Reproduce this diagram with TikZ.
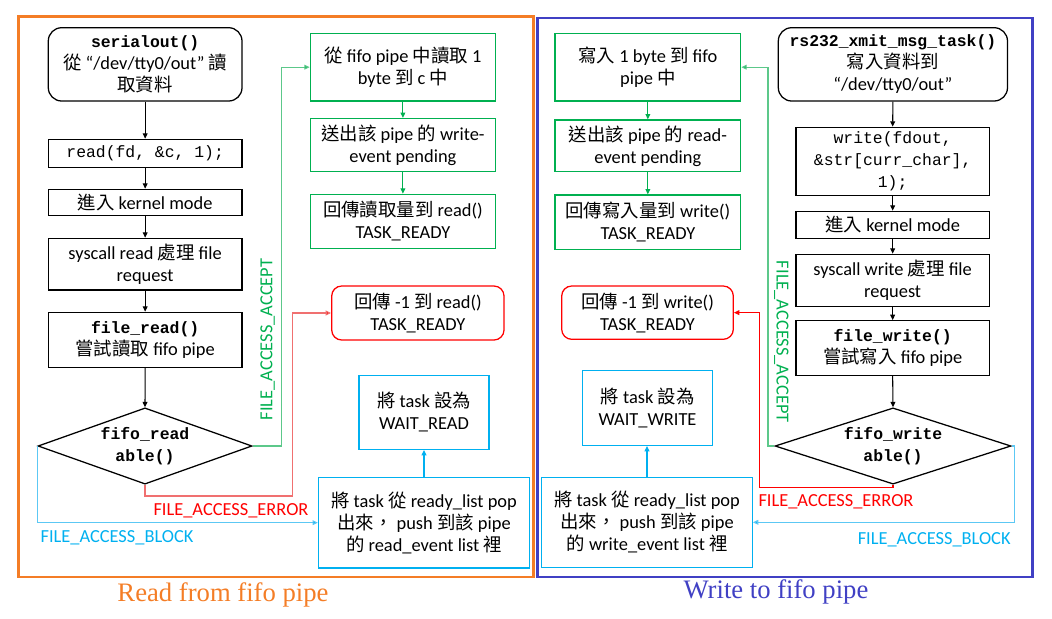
\documentclass[tikz,border=0pt]{standalone}
\usepackage{fontspec}
\setmainfont{Carlito}
\setmonofont{Liberation Mono}
\newfontfamily\zhfont{Noto Sans CJK TC}
\newfontfamily\titlefont{Liberation Serif}
\newcommand\Z[1]{{\zhfont #1}}
\newcommand\cod{\fontsize{12.3}{16.5}\selectfont\ttfamily}
\newcommand\codb{\fontsize{12.3}{16.5}\selectfont\ttfamily\bfseries}
\usetikzlibrary{arrows.meta,shapes.geometric}
\definecolor{forange}{HTML}{F47D26}
\definecolor{fblue}{HTML}{4040C4}
\definecolor{ggreen}{HTML}{00B050}
\definecolor{glight}{HTML}{5CC88A}
\definecolor{cblue}{HTML}{00B0F0}
\definecolor{clight}{HTML}{5CC8F4}
\definecolor{rred}{HTML}{FF0000}
\definecolor{rlight}{HTML}{F07070}
\begin{document}
\begin{tikzpicture}[x=0.75pt,y=-0.75pt,
  txt/.style={font=\fontsize{13.8}{16.5}\selectfont},
  box/.style={draw, line width=0.95pt, inner sep=0pt, align=center, txt},
  sz/.style 2 args={minimum width=#1*0.75pt, minimum height=#2*0.75pt},
  rbox/.style={box, rounded corners=10pt},
  gbox/.style={box, draw=ggreen},
  redbox/.style={box, draw=rred, rounded corners=7.5pt},
  cbox/.style={box, draw=cblue},
  dia/.style={diamond, draw, line width=0.95pt, inner sep=0pt, aspect=2.8, align=center, font=\codb},
  arr/.style={-{Triangle[length=4pt,width=3.6pt]}, line width=0.8pt},
  frame/.style={line width=2pt},
  lbl/.style={txt, inner sep=0pt, anchor=base},
  ttl/.style={font=\titlefont\fontsize{20}{24}\selectfont, inner sep=0pt, anchor=base}
]
\useasboundingbox (0,0) rectangle (1052,618);

% frames
\draw[frame, forange] (18.3,16.3) rectangle (533.3,577);
\draw[frame, fblue] (537.3,18) rectangle (1032.3,577);
\node[ttl, text=forange] (t1) at (223,601.7) {Read from fifo pipe};
\node[ttl, text=fblue] (t2) at (776,598.3) {Write to fifo pipe};

% ---------- left panel ----------
\node[rbox, sz={193.7}{73.3}] (n1) at (145.15,64.35) {{\codb serialout()}\\\Z{從} “/dev/tty0/out” \Z{讀}\\\Z{取資料}};
\node[box, sz={193.7}{28}] (n2) at (145.15,153.3) {\cod read(fd, \&c, 1);};
\node[box, sz={193.7}{26}] (n3) at (145.15,202.3) {\Z{進入} kernel mode};
\node[box, sz={193.7}{51.7}] (n4) at (145.15,264.15) {syscall read \Z{處理} file\\request};
\node[box, sz={193.7}{55}] (n5) at (145.15,339.8) {{\codb file\_read()}\\\Z{嘗試讀取} fifo pipe};
\node[dia, minimum width=160.5pt, minimum height=57.2pt] (d1) at (145,446) {fifo\_read\\able()};

\node[gbox, sz={185.2}{67.7}] (g1) at (402.9,67.15) {\Z{從} fifo pipe \Z{中讀取} 1\\byte \Z{到} c \Z{中}};
\node[gbox, sz={185.2}{53.2}] (g2) at (402.9,145.1) {\Z{送出該} pipe \Z{的} write-\\event pending};
\node[gbox, sz={185.2}{54}] (g3) at (402.9,221.3) {\Z{回傳讀取量到} read()\\TASK\_READY};
\node[redbox, sz={172.3}{54}] (r1) at (417.85,313) {\Z{回傳} -1 \Z{到} read()\\TASK\_READY};
\node[cbox, sz={130}{74}] (c1) at (424,412.3) {\Z{將} task \Z{設為}\\WAIT\_READ};
\node[cbox, sz={211}{90.7}] (c2) at (424,522.65) {\Z{將} task \Z{從} ready\_list pop\\\Z{出來，} push \Z{到該} pipe\\\Z{的} read\_event list \Z{裡}};

\draw[arr] (n1.south) -- (n2.north);
\draw[arr] (n2.south) -- (n3.north);
\draw[arr] (n3.south) -- (n4.north);
\draw[arr] (n4.south) -- (n5.north);
\draw[arr] (n5.south) -- (d1.north);
\draw[arr, ggreen] (g1.south) -- (g2.north);
\draw[arr, ggreen] (g2.south) -- (g3.north);

\coordinate (ga) at (281.7,446);
\coordinate (ra) at (292.4,496);
\draw[arr, draw=glight, -{Triangle[length=4pt,width=3.6pt,fill=ggreen]}] (d1.east) -- (ga) |- (g1.west);
\draw[arr, draw=rlight, -{Triangle[length=4pt,width=3.6pt,fill=rred]}] (d1.south) |- (ra) |- (r1.west);
\draw[arr, draw=clight, -{Triangle[length=4pt,width=3.6pt,fill=cblue]}] (d1.west) |- (c2.west);
\draw[arr, cblue] (c2.north) -- (c2.north |- c1.south);

\node[lbl, text=ggreen, rotate=90] (la) at (272.4,339.5) {FILE\_ACCESS\_ACCEPT};
\node[lbl, text=rred] (le) at (231,515) {FILE\_ACCESS\_ERROR};
\node[lbl, text=cblue] (lbk) at (117,542.7) {FILE\_ACCESS\_BLOCK};

% ---------- right panel ----------
\node[rbox, sz={229.2}{73.3}] (m1) at (892.9,64.35) {{\codb rs232\_xmit\_msg\_task()}\\\Z{寫入資料到}\\“/dev/tty0/out”};
\node[box, sz={193.3}{68}] (m2) at (892.65,161.3) {\cod write(fdout,\\\cod \&str[curr\_char],\\\cod 1);};
\node[box, sz={193.3}{27.4}] (m3) at (892.65,225) {\Z{進入} kernel mode};
\node[box, sz={193.3}{52}] (m4) at (892.65,280.3) {syscall write \Z{處理} file\\request};
\node[box, sz={193.3}{54.6}] (m5) at (892.65,348) {{\codb file\_write()}\\\Z{嘗試寫入} fifo pipe};
\node[dia, minimum width=177pt, minimum height=57.2pt] (d2) at (893,446) {fifo\_write\\able()};

\node[gbox, sz={185.7}{67.7}] (h1) at (647.85,67.15) {\Z{寫入} 1 byte \Z{到} fifo\\pipe \Z{中}};
\node[gbox, sz={185.7}{51.7}] (h2) at (647.85,145.85) {\Z{送出該} pipe \Z{的} read-\\event pending};
\node[gbox, sz={185.7}{54.3}] (h3) at (647.85,222.15) {\Z{回傳寫入量到} write()\\TASK\_READY};
\node[redbox, sz={171.6}{53.3}] (s1) at (647.5,312.65) {\Z{回傳} -1 \Z{到} write()\\TASK\_READY};
\node[cbox, sz={130.4}{75}] (e1) at (647.5,407.8) {\Z{將} task \Z{設為}\\WAIT\_WRITE};
\node[cbox, sz={210.6}{90}] (e2) at (647,522.3) {\Z{將} task \Z{從} ready\_list pop\\\Z{出來，} push \Z{到該} pipe\\\Z{的} write\_event list \Z{裡}};

\draw[arr] (m1.south) -- (m2.north);
\draw[arr] (m2.south) -- (m3.north);
\draw[arr] (m3.south) -- (m4.north);
\draw[arr] (m4.south) -- (m5.north);
\draw[arr] (m5.south) -- (d2.north);
\draw[arr, ggreen] (h1.south) -- (h2.north);
\draw[arr, ggreen] (h2.south) -- (h3.north);

\coordinate (gb) at (768,446);
\coordinate (rb) at (759.3,487.3);
\coordinate (cb) at (1014.3,446);
\draw[arr, draw=glight, -{Triangle[length=4pt,width=3.6pt,fill=ggreen]}] (d2.west) -- (gb) |- (h1.east);
\draw[arr, rred] (d2.south) |- (rb) |- (s1.east);
\draw[arr, draw=clight, -{Triangle[length=4pt,width=3.6pt,fill=cblue]}] (d2.east) -- (cb) |- (e2.east);
\draw[arr, cblue] (e2.north) -- (e2.north |- e1.south);

\node[lbl, text=ggreen, rotate=-90] (lb) at (776.5,341.7) {FILE\_ACCESS\_ACCEPT};
\node[lbl, text=rred] (re) at (836,506.7) {FILE\_ACCESS\_ERROR};
\node[lbl, text=cblue] (rbk) at (934.2,544) {FILE\_ACCESS\_BLOCK};
\end{tikzpicture}
\end{document}
